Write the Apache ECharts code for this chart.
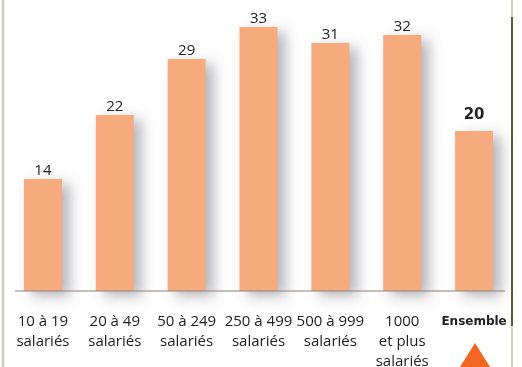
<!DOCTYPE html>
<html>
<head>
<meta charset="utf-8">
<style>
  html, body { margin: 0; padding: 0; background: #ffffff; }
  #chart { width: 522px; height: 367px; }
</style>
<script src="https://cdn.jsdelivr.net/npm/echarts@6/dist/echarts.min.js"></script>
</head>
<body>
<div id="chart"></div>
<script>
// Company size classes and their values
const categories = [
  '10 à 19\nsalariés',
  '20 à 49\nsalariés',
  '50 à 249\nsalariés',
  '250 à 499\nsalariés',
  '500 à 999\nsalariés',
  '1000\net plus\nsalariés',
  'Ensemble'
];
const values = [14, 22, 29, 33, 31, 32, 20];
const totalIndex = 6;

const FONT = 'Open Sans';
const BOLD_FONT = 'DejaVu Sans';
const BAR = '#F8AA7F';

const chart = echarts.init(document.getElementById('chart'), null, { renderer: 'canvas' });

const catData = categories.map((c, i) => i === totalIndex
  ? { value: c, textStyle: { fontFamily: BOLD_FONT, fontWeight: 'bold', fontSize: 12 } }
  : c);

const data = values.map((v, i) => {
  const item = { value: v };
  if (i === totalIndex) {
    item.label = { fontFamily: BOLD_FONT, fontWeight: 'bold', distance: 8 };
  }
  return item;
});

chart.setOption({
  animation: false,
  backgroundColor: '#ffffff',
  grid: { left: 7, right: 12, top: 3, bottom: 76, outerBoundsMode: 'none', containLabel: false },
  xAxis: {
    type: 'category',
    data: catData,
    axisLine: { show: false },
    axisTick: { show: false },
    axisLabel: {
      interval: 0,
      hideOverlap: false,
      margin: 21,
      fontFamily: FONT,
      fontSize: 15,
      lineHeight: 20,
      color: '#222222',
      verticalAlign: 'top'
    }
  },
  yAxis: {
    type: 'value',
    min: 0,
    max: 36,
    show: false,
    splitLine: { show: false }
  },
  series: [{
    type: 'bar',
    data: data,
    barWidth: 38,
    itemStyle: {
      color: BAR,
      shadowColor: 'rgba(60,60,70,0.38)',
      shadowBlur: 14,
      shadowOffsetX: 8,
      shadowOffsetY: 5
    },
    label: {
      show: true,
      position: 'top',
      distance: 1,
      fontFamily: FONT,
      fontSize: 15,
      color: '#222222'
    }
  }],
  graphic: [
    // left frame rule
    { type: 'line', z: 10, shape: { x1: 3, y1: 0, x2: 3, y2: 367 },
      style: { stroke: '#cbcbbc', lineWidth: 2.5 } },
    // right frame rule
    { type: 'line', z: 10, shape: { x1: 512, y1: 0, x2: 512, y2: 367 },
      style: { stroke: '#d2d2c6', lineWidth: 2 } },
    { type: 'line', z: 11, shape: { x1: 512, y1: 17, x2: 512, y2: 326 },
      style: { stroke: '#5b5a34', lineWidth: 2 } },
    // baseline
    { type: 'line', z: 12, shape: { x1: 15, y1: 291, x2: 505, y2: 291 },
      style: { stroke: '#8b817a', lineWidth: 1.2 } },
    // marker under the total
    { type: 'polygon', z: 12, shape: { points: [[475, 343], [460, 367], [490, 367]] },
      style: { fill: '#F26522' } }
  ]
});
</script>
</body>
</html>
